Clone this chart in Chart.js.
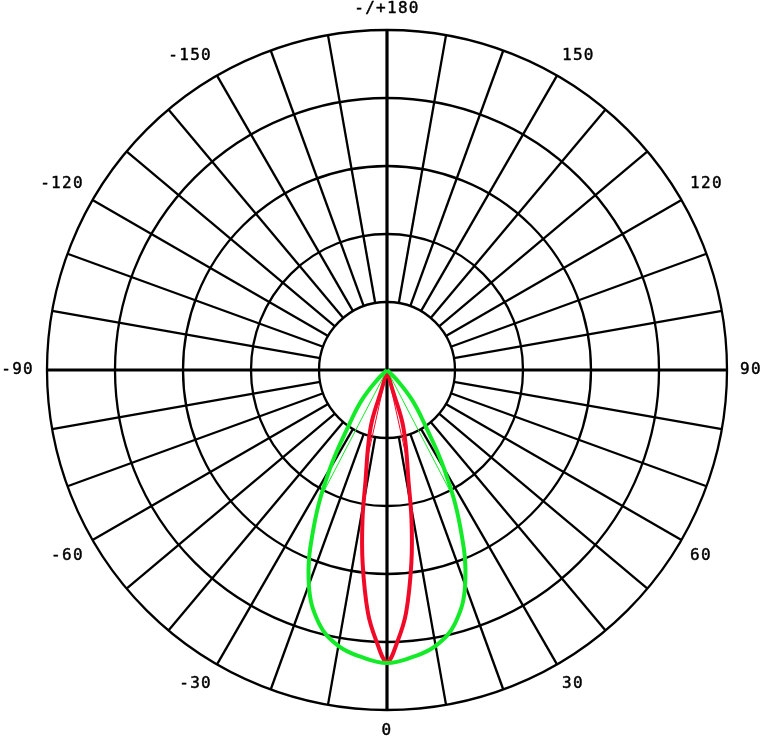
<!DOCTYPE html>
<html>
<head>
<meta charset="utf-8">
<script src="https://cdn.jsdelivr.net/npm/chart.js@4"></script>
<style>
  html, body { margin: 0; padding: 0; background: #fff; }
  #wrap { width: 765px; height: 743px; position: relative; }
</style>
</head>
<body>
<div id="wrap"><canvas id="polar"></canvas></div>
<script>
// gamma angles (0 = nadir, bottom) and intensity values, in path order
const greenAngles = [-50, -45, -40, -35, -30, -25, -20, -15, -10, -5, 0, 5, 10, 15, 20, 25, 30, 35, 40, 45, 50];
const greenValues = [0, 20, 57, 95, 168, 255, 336, 386, 412, 424, 431, 424, 412, 386, 336, 255, 168, 95, 57, 20, 0];

const redAngles = [-14, -15.5, -16.5, -14, -11, -9.3, -7.2, -4.5, -2.3, 0, 2.3, 4.5, 7.2, 9.3, 11, 14, 16.5, 15.5, 14];
const redValues = [0, 30, 77, 114, 165, 223, 286, 358, 398, 429, 398, 358, 286, 223, 165, 114, 77, 30, 0];

// thin planes leaving the centre before joining the main curves
const thinGreenAngles = [-27.5, 0, 27.5];
const thinGreenValues = [215, 0, 215];
const thinRedAngles = [-12.5, 0, 12.5];
const thinRedValues = [137, 0, 137];

const ringValues = [100, 200, 300, 400, 500];
const spokeStep = 10;
const angleLabels = [0, 30, 60, 90, 120, 150, 180, -150, -120, -90, -60, -30];
const labelText = { 180: "-/+180" };

const toXY = (angles, values) =>
    angles.map((a, i) => {
        const t = (a * Math.PI) / 180;
        return { x: values[i] * Math.sin(t), y: -values[i] * Math.cos(t) };
    });

const pxPerUnit = 340 / 500;
const centerPx = { x: 387, y: 370 };

const polarGrid = {
    id: "polarGrid",
    beforeDatasetsDraw(chart) {
        const { ctx, scales } = chart;
        const px = (x, y) => ({ x: scales.x.getPixelForValue(x), y: scales.y.getPixelForValue(y) });
        const c = px(0, 0);
        const unit = scales.x.getPixelForValue(1) - scales.x.getPixelForValue(0);
        const outer = ringValues[ringValues.length - 1];
        const inner = ringValues[0];
        ctx.save();
        ctx.strokeStyle = "#000";
        ctx.lineWidth = 2.3;
        ringValues.forEach((r) => {
            ctx.beginPath();
            ctx.arc(c.x, c.y, r * unit, 0, Math.PI * 2);
            ctx.stroke();
        });
        for (let a = 0; a < 360; a += spokeStep) {
            if (a % 90 === 0) continue;
            const t = (a * Math.PI) / 180;
            const p1 = px(inner * Math.sin(t), -inner * Math.cos(t));
            const p2 = px(outer * Math.sin(t), -outer * Math.cos(t));
            ctx.beginPath();
            ctx.moveTo(p1.x, p1.y);
            ctx.lineTo(p2.x, p2.y);
            ctx.stroke();
        }
        ctx.lineWidth = 3.2;
        ctx.beginPath();
        let a1 = px(-outer, 0), a2 = px(outer, 0);
        ctx.moveTo(a1.x, a1.y);
        ctx.lineTo(a2.x, a2.y);
        a1 = px(0, -outer);
        a2 = px(0, outer);
        ctx.moveTo(a1.x, a1.y);
        ctx.lineTo(a2.x, a2.y);
        ctx.stroke();
        ctx.restore();
    },
    afterDraw(chart) {
        const { ctx } = chart;
        const labelR = 350;
        ctx.save();
        ctx.fillStyle = "#000";
        ctx.strokeStyle = "#000";
        ctx.lineWidth = 0.45;
        ctx.font = '16px "DejaVu Sans Mono"';
        if ("letterSpacing" in ctx) ctx.letterSpacing = "1.3px";
        ctx.textBaseline = "middle";
        angleLabels.forEach((a) => {
            const t = (a * Math.PI) / 180;
            const s = Math.sin(t), co = Math.cos(t);
            let x = centerPx.x + labelR * s;
            let y = centerPx.y + labelR * co;
            if (s > 0.01) { ctx.textAlign = "left"; x += Math.abs(co) < 0.01 ? 3 : 0; }
            else if (s < -0.01) { ctx.textAlign = "right"; x -= Math.abs(co) < 0.01 ? 3 : 0; }
            else { ctx.textAlign = "center"; }
            if (co > 0.01) y += 11;
            else if (co < -0.01) y -= 11;
            const txt = labelText[a] || String(a);
            ctx.fillText(txt, x, y);
            ctx.strokeText(txt, x, y);
        });
        ctx.restore();
    },
};

new Chart(document.getElementById("polar"), {
    type: "scatter",
    data: {
        datasets: [
            {
                label: "thin green",
                data: toXY(thinGreenAngles, thinGreenValues),
                showLine: true,
                borderColor: "rgb(20, 235, 40)",
                borderWidth: 1,
                tension: 0,
            },
            {
                label: "green",
                data: toXY(greenAngles, greenValues),
                showLine: true,
                borderColor: "rgb(20, 235, 40)",
                borderWidth: 4,
                tension: 0.4,
            },
            {
                label: "thin red",
                data: toXY(thinRedAngles, thinRedValues),
                showLine: true,
                borderColor: "rgb(240, 10, 40)",
                borderWidth: 1,
                tension: 0,
            },
            {
                label: "red",
                data: toXY(redAngles, redValues),
                showLine: true,
                borderColor: "rgb(240, 10, 40)",
                borderWidth: 4,
                tension: 0.4,
            },
        ],
    },
    options: {
        responsive: true,
        maintainAspectRatio: false,
        animation: false,
        layout: { padding: 0 },
        elements: { point: { radius: 0 } },
        plugins: {
            legend: { display: false },
            tooltip: { enabled: false },
        },
        scales: {
            x: {
                display: false,
                min: -centerPx.x / pxPerUnit,
                max: (765 - centerPx.x) / pxPerUnit,
            },
            y: {
                display: false,
                min: -(743 - centerPx.y) / pxPerUnit,
                max: centerPx.y / pxPerUnit,
            },
        },
    },
    plugins: [polarGrid],
});
</script>
</body>
</html>
